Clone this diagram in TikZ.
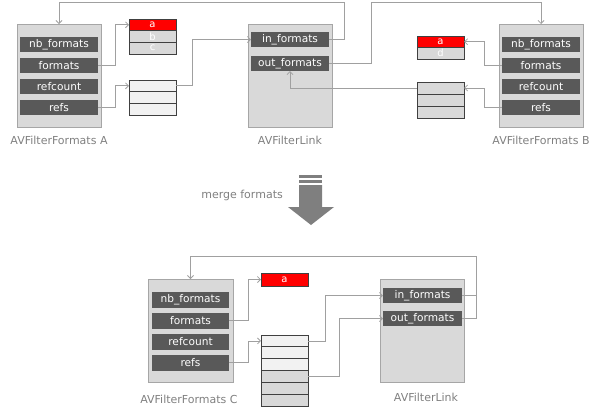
\documentclass[tikz,border=0pt]{standalone}
\usepackage{fontspec}
\setmainfont{DejaVu Sans}
\usetikzlibrary{arrows.meta}
\definecolor{boxfill}{HTML}{D9D9D9}
\definecolor{boxline}{HTML}{A6A6A6}
\definecolor{fieldfill}{HTML}{595959}
\definecolor{linec}{HTML}{A0A0A0}
\definecolor{lblc}{HTML}{808080}
\definecolor{cellline}{HTML}{404040}
\definecolor{lightc}{HTML}{F2F2F2}
\definecolor{redc}{HTML}{FF0000}
\definecolor{arrowc}{HTML}{7F7F7F}
\begin{document}
\begin{tikzpicture}[x=1pt,y=-1pt,
  box/.style={draw=boxline, fill=boxfill, line width=1pt, anchor=north west, inner sep=0pt, outer sep=0pt, minimum width=84pt, minimum height=103pt},
  field/.style={fill=fieldfill, text=white, font=\fontsize{10.6}{12}\selectfont, anchor=north west, inner sep=0pt, outer sep=0pt, minimum width=78pt, minimum height=15pt},
  cell/.style={draw=cellline, line width=0.8pt, text=white, font=\fontsize{10}{11}\selectfont, anchor=north west, inner sep=0pt, outer sep=0pt, minimum width=47pt, minimum height=11.7pt},
  redcell/.style={cell, fill=redc},
  graycell/.style={cell, fill=boxfill},
  litecell/.style={cell, fill=lightc},
  lbl/.style={text=lblc, font=\fontsize{11}{12}\selectfont, inner sep=0pt},
  conn/.style={draw=linec, line width=0.8pt},
  arr/.style={conn, -{Straight Barb[length=3pt,width=6pt]}}
]
\useasboundingbox (0,0) rectangle (600,413);
\coordinate (top1) at (0,2);
\coordinate (top2) at (0,256);

% ---------- top: AVFilterFormats A ----------
\node[box] (boxA) at (17,24) {};
\node[field] (nA) at (20,37) {nb\_formats};
\node[field] (fA) at (20,58) {formats};
\node[field] (cA) at (20,79) {refcount};
\node[field] (rA) at (20,100) {refs};
\node[lbl] (labA) at (59,140) {AVFilterFormats A};

\node[redcell] (aa) at (129,19) {a};
\node[graycell] (ab) at (129,30.7) {b};
\node[graycell] (ac) at (129,42.3) {c};

\node[litecell] (ra1) at (129,80) {};
\node[litecell] (ra2) at (129,91.7) {};
\node[litecell] (ra3) at (129,103.3) {};

% ---------- top: AVFilterLink ----------
\node[box] (link1) at (248,24) {};
\node[field] (lin) at (251,32) {in\_formats};
\node[field] (lout) at (251,56) {out\_formats};
\node[lbl] (labL1) at (290,140) {AVFilterLink};

% ---------- top: AVFilterFormats B ----------
\node[box] (boxB) at (499,24) {};
\node[field] (nB) at (502,37) {nb\_formats};
\node[field] (fB) at (502,58) {formats};
\node[field] (cB) at (502,79) {refcount};
\node[field] (rB) at (502,100) {refs};
\node[lbl] (labB) at (541,140) {AVFilterFormats B};

\node[redcell, minimum height=11.5pt] (ba) at (417,36) {a};
\node[graycell, minimum height=11.5pt] (bd) at (417,47.5) {d};

\node[graycell, minimum height=12pt] (rb1) at (417,82) {};
\node[graycell, minimum height=12pt] (rb2) at (417,94) {};
\node[graycell, minimum height=12pt] (rb3) at (417,106) {};

% ---------- top connectors ----------
\draw[arr] (fA.east) -- ++(17,0) |- (aa.west);
\draw[arr] (rA.east) -- ++(17,0) |- (ra1.west);
\draw[arr] (ra1.east) -- ++(16,0) |- (lin.west);
\draw[arr] (lin.east) -- ++(15,0) |- (boxA.north |- top1) -- (boxA.north);
\draw[arr] (lout.east) -- ++(42,0) |- (boxB.north |- top1) -- (boxB.north);
\draw[arr] (fB.west) -- ++(-18,0) |- (ba.east);
\draw[arr] (rB.west) -- ++(-18,0) |- (rb1.east);
\draw[arr] (rb1.west) -| (lout.south);

% ---------- merge arrow ----------
\node[lbl, anchor=east] (merge) at (283,195) {merge formats};
\fill[arrowc] (299,175) rectangle (322,177.5);
\fill[arrowc] (299,179.5) rectangle (322,183);
\fill[arrowc] (299,185) rectangle (322,207) (288,207) -- (334,207) -- (311,225) -- cycle;

% ---------- bottom: AVFilterFormats C ----------
\node[box, minimum width=85pt] (boxC) at (148,279) {};
\node[field, minimum width=77pt, minimum height=15.5pt] (nC) at (152,292) {nb\_formats};
\node[field, minimum width=77pt, minimum height=15.5pt] (fC) at (152,313) {formats};
\node[field, minimum width=77pt, minimum height=15.5pt] (cC) at (152,334) {refcount};
\node[field, minimum width=77pt, minimum height=15.5pt] (rC) at (152,355) {refs};
\node[lbl] (labC) at (189,399) {AVFilterFormats C};

\node[redcell, minimum height=13pt] (ca) at (261,273) {a};

\node[litecell, minimum height=11.83pt] (rc1) at (261,335) {};
\node[litecell, minimum height=11.83pt] (rc2) at (261,346.83) {};
\node[litecell, minimum height=11.83pt] (rc3) at (261,358.67) {};
\node[graycell, minimum height=11.83pt] (rc4) at (261,370.5) {};
\node[graycell, minimum height=11.83pt] (rc5) at (261,382.33) {};
\node[graycell, minimum height=11.83pt] (rc6) at (261,394.17) {};

% ---------- bottom: AVFilterLink ----------
\node[box] (link2) at (380,279) {};
\node[field, minimum width=79pt] (lin2) at (383,288) {in\_formats};
\node[field, minimum width=79pt] (lout2) at (383,311) {out\_formats};
\node[lbl] (labL2) at (426,397) {AVFilterLink};

% ---------- bottom connectors ----------
\draw[arr] (fC.east) -- ++(19,0) |- (ca.west);
\draw[arr] (rC.east) -- ++(19,0) |- (rc1.west);
\draw[arr] (rc1.east) -- ++(17,0) |- (lin2.west);
\draw[arr] (rc4.east) -- ++(31,0) |- (lout2.west);
\draw[arr] (lin2.east) -- ++(14,0) |- (boxC.north |- top2) -- (boxC.north);
\draw[conn] (lout2.east) -- ++(14,0) |- (lin2.east);
\end{tikzpicture}
\end{document}
